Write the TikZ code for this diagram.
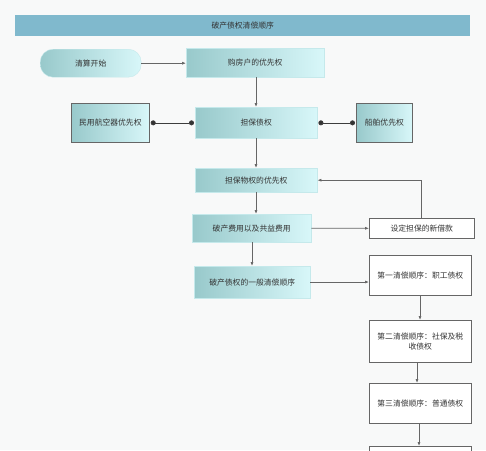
\documentclass[tikz,border=0pt]{standalone}
\usepackage{fontspec}
\setmainfont{Noto Sans CJK SC}
\usetikzlibrary{arrows.meta}
\definecolor{bg}{HTML}{F8F9F9}
\definecolor{titlebar}{HTML}{80B9CD}
\definecolor{tdark}{HTML}{98C9CB}
\definecolor{tlight}{HTML}{D8F7F9}
\definecolor{txt}{HTML}{333333}
\definecolor{edge}{HTML}{666666}
\tikzset{
  gbox/.style={draw=tlight!70!tdark, line width=0.4pt, left color=tdark, right color=tlight, text=txt,
    font=\fontsize{7.8}{9.5}\selectfont, inner sep=0pt, anchor=north west},
  gboxd/.style={gbox, draw=edge, line width=0.7pt},
  wbox/.style={draw=edge, line width=0.6pt, fill=white, text=txt, font=\fontsize{7.8}{9.5}\selectfont,
    inner sep=0pt, anchor=north west, align=center},
  conn/.style={draw=edge, line width=0.7pt, -{Latex[length=4pt,width=3pt]}},
  dotconn/.style={draw=edge!60!black, line width=0.7pt, {Circle[length=5pt,fill=black!80]}-{Circle[length=5pt,fill=black!80]}},
}
\begin{document}
\begin{tikzpicture}[x=1pt,y=-1pt]
\useasboundingbox (0,0) rectangle (486,450);
\clip (0,0) rectangle (486,450);
\fill[bg] (0,0) rectangle (486,450);
\node[fill=titlebar, minimum width=455pt, minimum height=21pt, anchor=north west, inner sep=0pt,
  text=txt, font=\fontsize{7.8}{9.5}\selectfont] (title) at (15,15) {破产债权清偿顺序};
\node[gbox, rounded corners=13pt, minimum width=101pt, minimum height=28pt] (start) at (40,49) {清算开始};
\node[gbox, minimum width=138pt, minimum height=29pt] (buy) at (186,48) {购房户的优先权};
\node[gbox, minimum width=122pt, minimum height=31pt] (guar) at (195,107) {担保债权};
\node[gboxd, minimum width=78pt, minimum height=39pt] (air) at (71,103) {民用航空器优先权};
\node[gboxd, minimum width=56pt, minimum height=39pt] (ship) at (356,103) {船舶优先权};
\node[gbox, minimum width=122pt, minimum height=24pt] (prop) at (195,168) {担保物权的优先权};
\node[gbox, minimum width=119pt, minimum height=28pt] (cost) at (192,214) {破产费用以及共益费用};
\node[wbox, minimum width=105pt, minimum height=20pt] (loan) at (369,218) {设定担保的新借款};
\node[gbox, minimum width=116pt, minimum height=32pt] (gen) at (194,266) {破产债权的一般清偿顺序};
\node[wbox, minimum width=102pt, minimum height=40pt] (first) at (369,255) {第一清偿顺序：职工债权};
\node[wbox, minimum width=102pt, minimum height=42pt] (second) at (369,320) {第二清偿顺序：社保及税\\收债权};
\node[wbox, minimum width=102pt, minimum height=40pt] (third) at (369,383) {第三清偿顺序：普通债权};
\node[wbox, minimum width=102pt, minimum height=40pt] (fourth) at (369,446) {};
\draw[conn] (start.east) -- (buy.west |- start.east);
\draw[conn] (buy.south -| 256,0) -- (guar.north -| 256,0);
\draw[dotconn] ([xshift=1pt]air.east) -- ([xshift=-1pt]guar.west |- air.east);
\draw[dotconn] ([xshift=1pt]guar.east |- ship.west) -- ([xshift=-1pt]ship.west);
\draw[conn] (guar.south -| 256,0) -- (prop.north -| 256,0);
\draw[conn] (prop.south -| 256,0) -- (cost.north -| 256,0);
\draw[conn] (cost.south -| 252,0) -- (gen.north -| 252,0);
\draw[conn] (cost.east) -- (loan.west);
\draw[conn] (loan.north -| 421,0) |- (prop.east);
\draw[conn] (gen.east |- 0,282) -- (first.west |- 0,282);
\draw[conn] (first.south -| 420,0) -- (second.north -| 420,0);
\draw[conn] (second.south -| 417,0) -- (third.north -| 417,0);
\draw[conn] (third.south -| 419,0) -- (fourth.north -| 419,0);
\end{tikzpicture}
\end{document}
